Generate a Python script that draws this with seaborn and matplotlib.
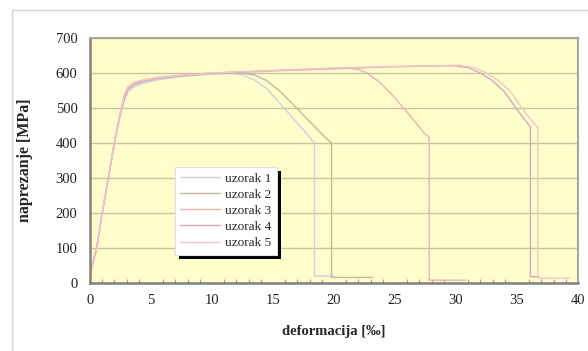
import numpy as np
import pandas as pd
import matplotlib
matplotlib.use("Agg")
import matplotlib.pyplot as plt
from matplotlib.patches import Rectangle
import seaborn as sns

# Stress-strain curves of five tensile specimens
labels = ["uzorak 1", "uzorak 2", "uzorak 3", "uzorak 4", "uzorak 5"]

strain_1 = [0.0, 0.55, 1.0, 1.5, 2.0, 2.4, 2.8, 3.1, 3.6, 4.3, 5.5, 7.5, 10.0, 11.5, 12.5, 13.5, 14.5, 15.6, 16.6, 17.5, 18.1, 18.4, 18.4, 20.0]
stress_1 = [25, 100, 200, 300, 400, 470, 520, 545, 560, 570, 580, 590, 597, 599, 595, 580, 555, 512, 472, 437, 412, 400, 20, 20]

strain_2 = [0.0, 0.55, 1.0, 1.5, 2.0, 2.4, 2.8, 3.1, 3.6, 4.3, 5.5, 7.5, 10.0, 12.5, 13.5, 14.5, 15.6, 16.6, 17.6, 18.8, 19.4, 19.8, 19.8, 23.2]
stress_2 = [25, 100, 200, 300, 400, 470, 525, 552, 566, 575, 584, 592, 598, 600, 594, 578, 547, 512, 476, 433, 412, 400, 16, 16]

strain_3 = [0.0, 0.55, 1.0, 1.5, 2.0, 2.4, 2.8, 3.1, 3.6, 4.3, 5.5, 7.5, 10.0, 15.0, 21.0, 22.0, 22.7, 23.7, 24.7, 25.7, 26.7, 27.4, 27.8, 27.8, 30.8]
stress_3 = [25, 100, 200, 300, 400, 475, 535, 560, 572, 580, 587, 594, 600, 607, 615, 610, 600, 575, 540, 500, 458, 428, 417, 8, 8]

strain_4 = [0.0, 0.55, 1.0, 1.5, 2.0, 2.4, 2.8, 3.1, 3.6, 4.3, 5.5, 7.5, 10.0, 15.0, 20.0, 25.0, 29.8, 31.0, 32.0, 33.0, 34.0, 34.8, 35.6, 36.1, 36.1, 36.8]
stress_4 = [25, 100, 200, 300, 400, 470, 528, 555, 568, 577, 585, 592, 599, 606, 612, 618, 621, 615, 600, 578, 545, 505, 468, 446, 18, 18]

strain_5 = [0.0, 0.55, 1.0, 1.5, 2.0, 2.4, 2.8, 3.1, 3.6, 4.3, 5.5, 7.5, 10.0, 15.0, 20.0, 25.0, 30.3, 31.5, 32.5, 33.5, 34.5, 35.3, 36.1, 36.7, 36.7, 39.3]
stress_5 = [25, 100, 200, 300, 400, 472, 532, 558, 570, 579, 586, 593, 600, 607, 614, 619, 622, 615, 600, 578, 545, 505, 468, 445, 14, 14]

colors = ["#c9d3de", "#c2b6a6", "#eab3b3", "#d8a8bc", "#f2c4cc"]

y_ticks = [0, 100, 200, 300, 400, 500, 600, 700]
x_ticks = [0, 5, 10, 15, 20, 25, 30, 35, 40]

strains = [strain_1, strain_2, strain_3, strain_4, strain_5]
stresses = [stress_1, stress_2, stress_3, stress_4, stress_5]
frames = []
for lab, s, t in zip(labels, strains, stresses):
    frames.append(pd.DataFrame({"deformacija": s, "naprezanje": t, "uzorak": lab}))
df = pd.concat(frames, ignore_index=True)

sns.set_theme(style="white")
plt.rcParams["font.family"] = ["Liberation Serif", "DejaVu Serif"]

fig = plt.figure(figsize=(5.88, 3.51), dpi=100)
fig.patch.set_facecolor("white")
fig.patches.append(Rectangle((12 / 588, -0.01), 0.99, (351 - 10) / 351 + 0.01,
                             transform=fig.transFigure, fill=False,
                             edgecolor="#d4d4d4", linewidth=1.0))

ax = fig.add_axes([90 / 588, (351 - 283) / 351, 488 / 588, 245 / 351])
ax.set_facecolor("#fffdcb")

sns.lineplot(data=df, x="deformacija", y="naprezanje", hue="uzorak",
             palette=colors, sort=False, estimator=None, units="uzorak",
             linewidth=1.0, ax=ax, legend=True)

ax.set_xlim(0, 40)
ax.set_ylim(0, 700)
ax.set_xticks(x_ticks)
ax.set_yticks(y_ticks)
ax.set_xticks(np.arange(0, 41, 1), minor=True)
ax.yaxis.grid(True, color="#c9c3a0", linewidth=1.0)
ax.set_axisbelow(True)

for side in ["top", "right"]:
    ax.spines[side].set_color("#a8a8a0")
    ax.spines[side].set_linewidth(1.5)
for side in ["left", "bottom"]:
    ax.spines[side].set_color("#808080")
    ax.spines[side].set_linewidth(1.8)

ax.tick_params(axis="both", which="major", labelsize=10.5, colors="#222222",
               length=3, width=1, direction="out", pad=6)
ax.tick_params(axis="x", which="minor", length=3, width=0.8, direction="in",
               color="#a0a0a0", bottom=True)
ax.tick_params(axis="x", which="major", length=4, direction="inout", color="#808080")
ax.tick_params(axis="y", which="major", color="#808080")

ax.set_xlabel("deformacija [‰]", fontsize=10.5, fontweight="bold", labelpad=13,
              family=["Liberation Serif", "DejaVu Serif"])
ax.set_ylabel("naprezanje [MPa]", fontsize=11.5, fontweight="bold", labelpad=16)

leg = ax.legend(loc="upper left", bbox_to_anchor=((175 - 90) / 488, (283 - 167) / 245),
                frameon=True, fancybox=False, fontsize=9.5, handlelength=3.0,
                handletextpad=0.4, labelspacing=0.3, borderpad=0.4,
                borderaxespad=0, edgecolor="#e0e0e0", framealpha=1)
leg.get_frame().set_linewidth(0.8)
for h in leg.get_lines():
    h.set_linewidth(1.0)

# drop shadow behind the legend box
fig.canvas.draw()
bb = leg.get_window_extent()
shadow = Rectangle((bb.x0 + 4, bb.y0 - 4), bb.width, bb.height,
                   transform=None, facecolor="black", edgecolor="none",
                   zorder=leg.get_zorder() - 0.1)
ax.add_artist(shadow)

fig.savefig("out.png", dpi=100)
